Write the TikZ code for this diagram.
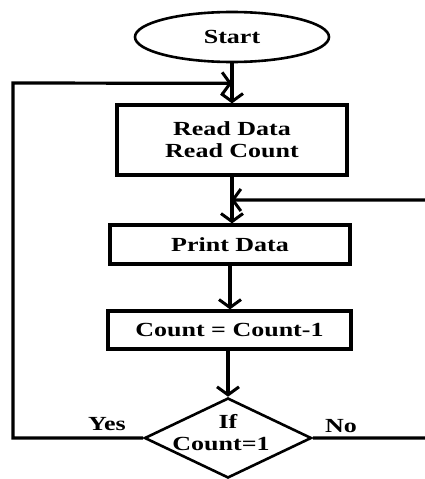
\documentclass[tikz,border=0pt]{standalone}
\usepackage{fontspec}
\newfontfamily\labfont{Liberation Serif}[FakeStretch=1.3]
\usetikzlibrary{shapes.geometric,arrows.meta,calc}
\begin{document}
\begin{tikzpicture}[x=1pt,y=-1pt,
  every node/.style={font=\labfont\bfseries\fontsize{20}{22}\selectfont, inner sep=0pt},
  boxstyle/.style={draw, line width=3.2pt, rectangle},
  flow/.style={line width=3.2pt, -{Straight Barb[length=8pt,width=22pt,line width=3pt]}},
  plain/.style={line width=3.2pt}]
\useasboundingbox (0,0) rectangle (425,479);
\clip (0,0) rectangle (425,479);
\node[draw, ellipse, line width=2.6pt, minimum width=194pt, minimum height=50pt] (start) at (232,37) {Start};
\node[boxstyle, minimum width=230pt, minimum height=70pt, align=center] (read) at (232,140) {Read Data\\Read Count};
\node[boxstyle, minimum width=240pt, minimum height=39pt] (print) at (230,244.5) {Print Data};
\node[boxstyle, minimum width=243pt, minimum height=38pt] (count) at (229.5,330) {Count = Count-1};
\node[draw, diamond, line width=2.6pt, minimum width=167pt, minimum height=80pt] (dec) at (228,438) {};
\node[align=center] (dectext) at (221,433) {\hspace*{14pt}If\\Count=1};
\node (yes) at (107,424) {Yes};
\node (no) at (341,426) {No};
\coordinate (j1) at ($(start.south)!0.5!(read.north)$);
\coordinate (j2) at ($(read.south)!0.5!(print.north)$);
\coordinate (l1) at (13,438);
\coordinate (l2) at (13,83);
\coordinate (r1) at (440,438);
\coordinate (r2) at (440,200);
\draw[flow] (start.south) -- (read.north);
\draw[flow] (read.south) -- (read.south |- print.north);
\draw[flow] (print.south) -- (print.south |- count.north);
\draw[flow] (dec.north |- count.south) -- (dec.north);
\draw[flow] (dec.west) -- (l1) -- (l2) -- (j1);
\draw[flow] (dec.east) -- (r1) -- (r2) -- (j2);
\end{tikzpicture}
\end{document}
